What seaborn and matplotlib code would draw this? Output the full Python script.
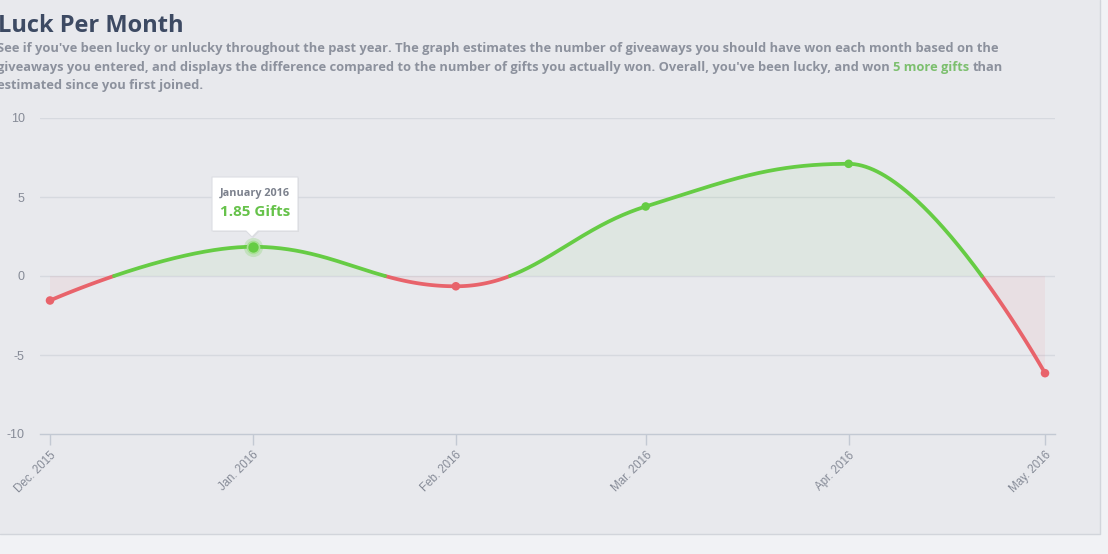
import numpy as np
import pandas as pd
import matplotlib
matplotlib.use("Agg")
import matplotlib.pyplot as plt
import seaborn as sns
from matplotlib.patches import Rectangle, Polygon
from matplotlib.lines import Line2D
from matplotlib.transforms import IdentityTransform

# ---------------- data ----------------
month_labels = ["Dec. 2015", "Jan. 2016", "Feb. 2016", "Mar. 2016", "Apr. 2016", "May. 2016"]
month_dates = ["2015-12-01", "2016-01-01", "2016-02-01", "2016-03-01", "2016-04-01", "2016-05-01"]
luck = [-1.55, 1.85, -0.65, 4.4, 7.1, -6.15]
y_ticks = [-10, -5, 0, 5, 10]
hover_index = 1
title = "Luck Per Month"
sub_line1 = ("See if you've been lucky or unlucky throughout the past year. The graph estimates "
             "the number of giveaways you should have won each month based on the")
sub_line2a = ("giveaways you entered, and displays the difference compared to the number of gifts "
              "you actually won. Overall, you've been lucky, and won")
sub_line2b = "5 more gifts"
sub_line2c = "than"
sub_line3 = "estimated since you first joined."

# ---------------- style ----------------
W, H = 1108, 554
GREEN = "#66cc44"
RED = "#e8636b"
PANEL = "#e8e9ed"
OUTER = "#f1f2f5"
GRID = "#d6d9df"
AXIS = "#c3c9d3"
LABEL = "#868b97"
TEXTGRAY = "#8c919d"
TITLE = "#3d4a63"

sns.set_theme(style="white")
plt.rcParams["font.family"] = ["Liberation Sans", "DejaVu Sans"]

fig = plt.figure(figsize=(W / 100, H / 100), dpi=100, facecolor=OUTER)


def fx(px):
    return px / W


def fy(py):
    return 1 - py / H


fig.patches.append(Rectangle((0, fy(534)), fx(1100), 1 - fy(534), transform=fig.transFigure,
                             facecolor=PANEL, edgecolor="none", zorder=-5))
fig.lines.append(Line2D([0, fx(1100), fx(1100)], [fy(534), fy(534), 1], transform=fig.transFigure,
                        color="#d2d5db", lw=1, zorder=-4))

# ---------------- x positions from dates ----------------
dates = pd.to_datetime(month_dates)
xd = np.asarray((dates - dates[0]).days, dtype=float)
yv = np.asarray(luck, dtype=float)


# Highcharts-like spline
def spline(xs, ys, per=200):
    n = len(xs)
    smooth, denom = 1.5, 2.5
    lc = [(xs[i], ys[i]) for i in range(n)]
    rc = [(xs[i], ys[i]) for i in range(n)]
    for i in range(1, n - 1):
        px, py = xs[i], ys[i]
        lx, ly = xs[i - 1], ys[i - 1]
        nx, ny = xs[i + 1], ys[i + 1]
        lcx = (smooth * px + lx) / denom
        lcy = (smooth * py + ly) / denom
        rcx = (smooth * px + nx) / denom
        rcy = (smooth * py + ny) / denom
        if rcx != lcx:
            corr = ((rcy - lcy) * (rcx - px)) / (rcx - lcx) + py - rcy
            lcy += corr
            rcy += corr
        if lcy > ly and lcy > py:
            lcy = max(ly, py); rcy = 2 * py - lcy
        elif lcy < ly and lcy < py:
            lcy = min(ly, py); rcy = 2 * py - lcy
        if rcy > ny and rcy > py:
            rcy = max(ny, py); lcy = 2 * py - rcy
        elif rcy < ny and rcy < py:
            rcy = min(ny, py); lcy = 2 * py - rcy
        lc[i] = (lcx, lcy)
        rc[i] = (rcx, rcy)
    X, Y = [xs[0]], [ys[0]]
    t = np.linspace(0, 1, per)[1:]
    for i in range(1, n):
        p0 = np.array([xs[i - 1], ys[i - 1]])
        p1 = np.array(rc[i - 1])
        p2 = np.array(lc[i])
        p3 = np.array([xs[i], ys[i]])
        b = ((1 - t) ** 3)[:, None] * p0 + (3 * (1 - t) ** 2 * t)[:, None] * p1 + \
            (3 * (1 - t) * t ** 2)[:, None] * p2 + (t ** 3)[:, None] * p3
        X.extend(b[:, 0]); Y.extend(b[:, 1])
    return np.array(X), np.array(Y)


sx, sy = spline(xd, yv)

# split into sign runs with zero crossings inserted
rows = []
seg = 0
cur_sign = "pos" if sy[0] >= 0 else "neg"
rows.append((sx[0], sy[0], seg, cur_sign))
for i in range(1, len(sx)):
    s = "pos" if sy[i] >= 0 else "neg"
    if s != cur_sign:
        f = sy[i - 1] / (sy[i - 1] - sy[i])
        zx = sx[i - 1] + f * (sx[i] - sx[i - 1])
        rows.append((zx, 0.0, seg, cur_sign))
        seg += 1
        cur_sign = s
        rows.append((zx, 0.0, seg, cur_sign))
    rows.append((sx[i], sy[i], seg, cur_sign))
curve = pd.DataFrame(rows, columns=["x", "y", "seg", "sign"])

# ---------------- axes ----------------
ax = fig.add_axes([fx(40), fy(434), fx(1055) - fx(40), fy(118) - fy(434)])
ax.patch.set_alpha(0)
ppd = 995 / (xd[-1] - xd[0])
ax.set_xlim(xd[0] - 10 / ppd, xd[-1] + 10 / ppd)
ax.set_ylim(-10, 10)

for yt in y_ticks[1:]:
    ax.axhline(yt, color=GRID, lw=1, zorder=0)

ax.fill_between(sx, sy, 0, where=sy >= 0, interpolate=True, color=GREEN, alpha=0.07, lw=0, zorder=1)
ax.fill_between(sx, sy, 0, where=sy <= 0, interpolate=True, color=RED, alpha=0.07, lw=0, zorder=1)

sns.lineplot(data=curve, x="x", y="y", hue="sign", units="seg", estimator=None, sort=False,
             palette={"pos": GREEN, "neg": RED}, lw=2.7, legend=False, ax=ax, zorder=3)

pt_sign = ["pos" if v >= 0 else "neg" for v in luck]
ax.scatter([xd[hover_index]], [yv[hover_index]], s=190, color=GREEN, alpha=0.22, lw=0, zorder=4)
sns.scatterplot(x=xd, y=yv, hue=pt_sign, palette={"pos": GREEN, "neg": RED}, s=38,
                edgecolor="none", legend=False, ax=ax, zorder=5)
ax.scatter([xd[hover_index]], [yv[hover_index]], s=75, color=GREEN, edgecolor="#a9e096",
           lw=1.2, zorder=6)

for sp in ["left", "right", "top"]:
    ax.spines[sp].set_visible(False)
ax.spines["bottom"].set_color(AXIS)
ax.spines["bottom"].set_linewidth(1)
ax.set_xticks(xd)
ax.set_xticklabels(month_labels, rotation=45, ha="right", va="top", rotation_mode="anchor")
ax.set_yticks(y_ticks)
ax.set_yticklabels([str(v) for v in y_ticks])
ax.tick_params(axis="x", length=8, width=1, color=AXIS, labelcolor=LABEL, labelsize=8.3, pad=3,
               direction="out", bottom=True)
ax.tick_params(axis="y", length=0, labelcolor=LABEL, labelsize=9, pad=11)
ax.set_xlabel("")
ax.set_ylabel("")
ax.grid(False)

# ---------------- tooltip ----------------
def P(x, y):
    return (x, H - y)

tip = [P(212, 177), P(298, 177), P(298, 231), P(258, 231), P(252, 237), P(246, 231), P(212, 231)]
shadow = [(a + 1, b - 1) for a, b in tip]
fig.patches.append(Polygon(shadow, closed=True, transform=IdentityTransform(), facecolor="#000000",
                           alpha=0.05, edgecolor="none", zorder=7))
fig.patches.append(Polygon(tip, closed=True, transform=IdentityTransform(), facecolor="#ffffff",
                           edgecolor="#dcdee3", lw=0.8, joinstyle="round", zorder=8))
fig.text(fx(255), fy(193), dates[hover_index].strftime("%B %Y"), ha="center", va="center",
         fontsize=7.8, fontweight="bold", color="#7c818d", family=["Open Sans", "DejaVu Sans"], zorder=9)
fig.text(fx(255), fy(212), f"{luck[hover_index]:.2f} Gifts", ha="center", va="center",
         fontsize=11, fontweight="bold", color="#66c24a", family=["Open Sans", "DejaVu Sans"], zorder=9)

# ---------------- title & subtitle ----------------
renderer = fig.canvas.get_renderer()
fam = ["Open Sans", "DejaVu Sans"]


def width(s, size, weight="bold"):
    t = fig.text(0, 0, s, fontsize=size, fontweight=weight, family=fam)
    w = t.get_window_extent(renderer).width
    t.remove()
    return w


tsize = 20 * 186 / width(title, 20)
fig.text(fx(-2), fy(32), title, fontsize=tsize, fontweight="bold", color=TITLE, family=fam,
         va="baseline", ha="left")

ssize = 9.5 * 1007 / width(sub_line1, 9.5)
x0 = -3
for yb, txt in [(52, sub_line1), (89, sub_line3)]:
    fig.text(fx(x0), fy(yb), txt, fontsize=ssize, fontweight="bold", color=TEXTGRAY, family=fam,
             va="baseline", ha="left")
fig.text(fx(x0), fy(71), sub_line2a, fontsize=ssize, fontweight="bold", color=TEXTGRAY, family=fam,
         va="baseline", ha="left")
wx = width("x", ssize)
xg = x0 + width(sub_line2a + " x", ssize) - wx
fig.text(fx(xg), fy(71), sub_line2b, fontsize=ssize, fontweight="bold", color="#7cbf6e", family=fam,
         va="baseline", ha="left")
xt = xg + width(sub_line2b + " x", ssize) - wx
fig.text(fx(xt), fy(71), sub_line2c, fontsize=ssize, fontweight="bold", color=TEXTGRAY, family=fam,
         va="baseline", ha="left")

fig.savefig("out.png", dpi=100, facecolor=OUTER)
